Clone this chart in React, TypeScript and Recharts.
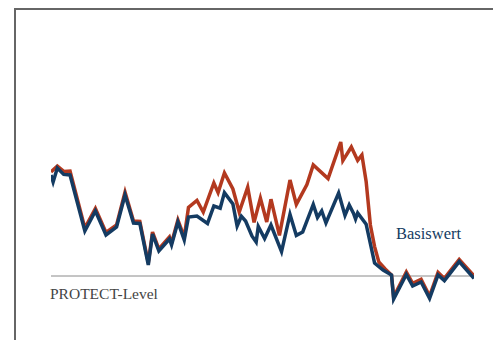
import { LineChart, Line, XAxis, YAxis, ReferenceLine } from "recharts";

// Handelstage (0..200) und Kurse in Indexpunkten, PROTECT-Level = 100
const BASIS_T = [0, 1, 3, 6, 9, 16, 21, 26, 31, 35, 39, 42, 46, 48, 51, 56, 57, 60, 63, 65, 69, 74, 77, 80, 82, 86, 88, 90, 92, 95, 97, 98, 101, 104, 109, 113, 116, 119, 124, 126, 128, 130, 136, 139, 141, 143, 144, 145, 149, 153, 157, 161, 162, 168, 171, 175, 179, 183, 186, 193, 200];
const BASIS_V = [150.5, 147, 154, 150.8, 150.5, 122.5, 132.5, 120.5, 124.5, 140.5, 126.5, 126.3, 105.5, 121, 112.5, 118.5, 115.5, 127, 118, 129.5, 130, 126.3, 135, 133.9, 141.7, 136, 125, 129.9, 127.5, 120, 117, 124.8, 118.7, 125.5, 112.2, 130.8, 120.3, 122, 135.8, 129.3, 132.5, 126.5, 141.5, 130.3, 135.5, 131.4, 128.5, 131.5, 125.9, 106.5, 103, 100.5, 88.5, 100.8, 95, 97, 88.8, 100.5, 97.7, 107.2, 98.8];

const ZERT_T = [0, 3, 6, 9, 16, 21, 26, 31, 35, 39, 42, 46, 48, 51, 56, 57, 60, 63, 65, 69, 72, 77, 79, 82, 86, 89, 93, 96, 99, 102, 104, 108, 113, 116, 121, 124, 131, 137, 138, 142, 145, 147, 149, 151, 153, 155, 158, 161, 162, 168, 171, 175, 179, 183, 186, 193, 200];
const ZERT_V = [152, 155, 152.3, 152.5, 124, 133.8, 121.8, 125.5, 142, 127.5, 127.3, 106.5, 122, 113.5, 119.5, 116.5, 128, 119.5, 134.3, 137.8, 132, 146.5, 141.7, 151.5, 143.5, 132, 144.4, 126.8, 138.9, 127, 138.4, 120.3, 148, 135.8, 145.7, 155.5, 148.7, 167, 157.7, 164.5, 157.8, 160.5, 147.3, 125.5, 114.7, 107, 103.5, 100.5, 89.5, 102, 96.3, 98.3, 90, 101.8, 98.8, 108.3, 100];

const PROTECT_LEVEL = 100;

const NAVY = "#143b62";
const RED = "#b3391f";

const basisData = BASIS_T.map((t, i) => ({ t, v: BASIS_V[i] }));
const zertData = ZERT_T.map((t, i) => ({ t, v: ZERT_V[i] }));

export default function App() {
  return (
    <div style={{ position: "fixed", left: 0, top: 0, width: 493, height: 340, background: "#fff" }}>
      <div
        style={{
          position: "absolute", left: 14, top: 8, width: 479, height: 332,
          borderTop: "2px solid #666", borderLeft: "2px solid #666",
        }}
      />
      <LineChart
        width={493}
        height={340}
        margin={{ top: 0, right: 19, bottom: 0, left: 51 }}
        style={{ position: "absolute", left: 0, top: 0 }}
      >
        <XAxis type="number" dataKey="t" domain={[0, 200]} hide allowDataOverflow />
        <YAxis type="number" domain={[68, 238]} hide allowDataOverflow />
        <ReferenceLine y={PROTECT_LEVEL} stroke="#8a8a8a" strokeWidth={1} />
        <Line
          data={zertData}
          dataKey="v"
          type="linear"
          stroke={RED}
          strokeWidth={3.5}
          dot={false}
          activeDot={false}
          isAnimationActive={false}
        />
        <Line
          data={basisData}
          dataKey="v"
          type="linear"
          stroke={NAVY}
          strokeWidth={3.5}
          dot={false}
          activeDot={false}
          isAnimationActive={false}
        />
      </LineChart>
      <svg width={493} height={340} style={{ position: "absolute", left: 0, top: 0, pointerEvents: "none" }}>
        <text x={50} y={299} fontFamily="'Liberation Serif', serif" fontSize={15.5} fill="#444">
          PROTECT-Level
        </text>
        <text x={396} y={239} fontFamily="'Liberation Serif', serif" fontSize={16.5} fill={NAVY}>
          Basiswert
        </text>
      </svg>
    </div>
  );
}
